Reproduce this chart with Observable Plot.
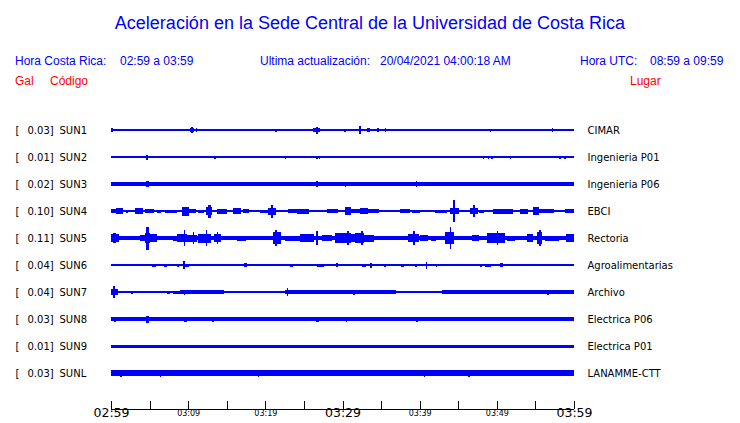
<!DOCTYPE html>
<html>
<head>
<meta charset="utf-8">
<script src="https://cdn.jsdelivr.net/npm/d3@7"></script>
<script src="https://cdn.jsdelivr.net/npm/@observablehq/plot@0.6"></script>
<style>
  html, body { margin: 0; padding: 0; background: #fff; }
  #page { position: relative; width: 740px; height: 423px; overflow: hidden; }
  #head { position: relative; height: 95px; }
  .t { position: absolute; white-space: pre; font-family: "Liberation Sans", Arial, sans-serif; line-height: 12px; font-size: 12px; }
  .blue { color: #0000ff; }
  .red { color: #ff0000; }
  #title { position: absolute; left: 0; width: 740px; top: 14px; text-align: center; font-family: "Liberation Sans", Arial, sans-serif; font-size: 18px; line-height: 18px; color: #0000ff; }
  #chart svg { display: block; }
</style>
</head>
<body>
<div id="page">
  <div id="head">
    <div id="title">Aceleración en la Sede Central de la Universidad de Costa Rica</div>
    <span class="t blue" style="left:15px;top:55px">Hora Costa Rica:</span>
    <span class="t blue" style="left:120px;top:55px">02:59 a 03:59</span>
    <span class="t blue" style="left:260px;top:55px">Ultima actualización:</span>
    <span class="t blue" style="left:380px;top:55px">20/04/2021 04:00:18 AM</span>
    <span class="t blue" style="left:580px;top:55px">Hora UTC:</span>
    <span class="t blue" style="left:650px;top:55px">08:59 a 09:59</span>
    <span class="t red" style="left:15px;top:75px">Gal</span>
    <span class="t red" style="left:50px;top:75px">Código</span>
    <span class="t red" style="left:630px;top:75px">Lugar</span>
  </div>
  <div id="chart"></div>
</div>
<script>
// ---- Data ----
const codes = ["SUN1","SUN2","SUN3","SUN4","SUN5","SUN6","SUN7","SUN8","SUN9","SUNL"];
const galScale = [0.03, 0.01, 0.02, 0.10, 0.11, 0.04, 0.04, 0.03, 0.01, 0.03];
const places = ["CIMAR","Ingenieria P01","Ingenieria P06","EBCI","Rectoria","Agroalimentarias","Archivo","Electrica P06","Electrica P01","LANAMME-CTT"];

// time axis: minutes after 02:59
const tickMinutes = [0,5,10,15,20,25,30,35,40,45,50,55,60];
const majorTicks = [{m:0, label:"02:59"},{m:30, label:"03:29"},{m:60, label:"03:59"}];
const minorTicks = [{m:10, label:"03:09"},{m:20, label:"03:19"},{m:40, label:"03:39"},{m:50, label:"03:49"}];

// Envelope segments per station: [startMinute, endMinute, halfAmplitude]
const sun1Env = [[0,60,0.6],[0,0.2,2],[1.9,2.0,1.2],[10.2,10.6,2],[10.4,10.5,3],[11.0,11.1,2],[21.3,21.4,1.5],[25.6,25.7,1],[26.2,27.0,1.8],[26.6,26.7,3.5],[30.2,30.3,1.5],[32.2,32.3,4],[33.2,33.4,2],[34.5,34.6,2],[35.5,35.6,2],[49.1,49.2,1.5],[53.3,53.4,1],[57.1,57.2,2]];
const sun2Env = [[0,60,0.6],[4.6,4.7,2.5],[9.6,9.7,1],[13.4,13.5,1.5],[21.2,21.3,1],[21.8,21.9,1],[22.5,22.6,1.5],[25.0,25.1,1],[25.7,25.8,1],[26.2,26.3,1],[26.6,26.7,1.5],[26.9,27.0,1.5],[30.3,30.4,1],[39.5,39.6,1],[39.8,39.9,1],[43.8,43.9,1],[44.7,44.8,1],[48.2,48.3,1.5],[48.8,48.9,1.5],[49.2,49.4,1.5],[51.0,51.1,1],[51.7,51.8,1.5],[58.0,58.2,1.5],[58.7,58.8,1.5]];
const sun3Env = [[0,60,2.0],[4.5,4.8,3],[26.6,26.7,3],[30.3,30.4,2.5],[39.5,39.6,3]];
const sun4Env = [[0,60,0.7],[0,0.65,2],[0.7,1.4,3],[2.0,2.1,1.5],[2.4,2.5,1],[3.1,4.0,3],[4.4,5.5,2],[6.0,6.4,1.5],[7.0,7.9,1.5],[8.0,8.5,1.5],[9.2,10.0,4.5],[10.0,10.9,2],[11.3,12.0,1.5],[12.3,13.0,4],[12.6,12.8,6.5],[13.7,14.9,2.5],[15.8,16.7,3],[17.1,17.8,2],[18.1,18.6,1],[19.3,20.2,1.5],[20.4,21.3,3.5],[20.7,20.9,6.5],[23.0,24.1,2],[24.1,25.5,2.5],[28.0,29.3,2],[30.3,31.0,4],[31.0,32.3,2],[32.3,33.2,3],[33.2,34.6,2],[37.5,38.7,2],[39.0,40.0,1.5],[41.4,41.5,1],[42.0,43.5,1.5],[43.9,45.0,3],[44.3,44.5,11],[46.5,47.5,3],[46.9,47.1,6],[47.7,48.3,1.5],[49.5,52.0,2.5],[53.0,54.0,2.5],[54.7,55.4,4],[55.4,57.3,2],[58.8,60,2]];
const sun5Env = [[0,60,1.7],[0,0.95,4],[0.3,0.5,5],[3.8,4.4,3],[4.4,5.05,5],[4.6,4.8,11.5],[5.05,5.9,4],[8.0,8.5,2.5],[8.5,9.8,4],[9.4,9.5,8],[9.8,11.1,3.5],[10.6,10.7,6],[11.3,12.8,4.5],[12.3,12.4,8],[13.3,14.1,4],[13.7,13.8,6],[16.3,17.4,2.5],[21.0,21.9,6],[21.3,21.4,8],[22.5,24.5,2.5],[24.5,26.2,4],[26.6,26.7,7],[27.3,28.6,3],[29.0,31.0,5],[30.6,30.7,7],[31.0,31.6,4],[31.6,32.7,5],[32.4,32.5,7],[32.7,34.0,3.5],[34.5,36.5,2],[38.5,39.8,4],[39.2,39.3,7],[40.0,41.0,3],[41.5,42.0,2.5],[43.3,44.4,6],[43.9,44.0,11],[46.8,47.6,3],[48.7,51.0,5],[50.0,50.1,7],[51.3,52.3,2.5],[53.9,54.6,4],[55.2,55.8,6],[55.5,55.6,8],[56.3,58.0,2.5],[59.0,60,4]];
const sun6Env = [[0,60,0.7],[5.3,5.7,1.5],[6.9,7.1,1.5],[8.5,8.7,1.5],[9.3,9.5,4],[9.5,10.0,1.5],[17.3,17.5,2],[23.2,23.5,1.5],[26.7,27.5,1.5],[28.2,28.3,1],[29.2,29.3,2],[32.5,32.9,1.5],[33.6,33.7,2.5],[35.4,35.6,1.5],[37.6,37.9,1.5],[39.4,39.5,1.5],[40.8,40.9,3.5],[42.1,42.2,1.5],[44.2,44.5,1],[47.8,48.0,1.5],[48.5,49.2,1.5],[50.4,50.7,2],[53.3,53.4,1]];
const sun7Env = [[0,9,0.7],[9,14.5,1.7],[14.5,22.5,1.3],[22.5,36.8,1.7],[36.8,39.5,1.3],[39.5,42.9,1.1],[42.9,60,1.7],[0,0.8,3],[0.3,0.4,6],[2.6,2.7,1.5],[5.1,5.2,1],[6.3,6.4,1],[7.2,7.6,1.5],[8.0,8.9,1.5],[9.4,9.5,2.5],[22.8,22.9,4],[31.4,31.5,2.5],[56.5,56.6,2.5]];
const sun8Env = [[0,60,1.9],[0.4,0.5,2.5],[4.5,4.8,3.5],[9.5,9.7,2.5],[13.1,13.3,2.5],[26.6,26.8,2.5],[30.4,30.5,2.5],[39.5,39.7,2.5]];
const sun9Env = [[0,60,1.5]];
const sunLEnv = [[0,60,2.8],[1.2,1.3,3.5],[6.3,6.4,3.5],[19.0,19.1,3.5],[40.5,40.6,3.5],[46.3,46.4,3.5]];

const envelopes = [sun1Env, sun2Env, sun3Env, sun4Env, sun5Env, sun6Env, sun7Env, sun8Env, sun9Env, sunLEnv];

// ---- Build the step envelopes (0.1-minute samples) from the read segments ----
const ROW = 27; // amplitude units per row spacing
const samples = [];
envelopes.forEach((segs, i) => {
  for (let k = 0; k <= 600; k++) {
    const t = k / 10;
    let a = 0;
    for (const [s, e, v] of segs) if (t >= s - 1e-9 && t <= e + 1e-9 && v > a) a = v;
    samples.push({station: i, t, amp: a});
  }
});
const stations = codes.map((c, i) => ({i, code: c, gal: galScale[i].toFixed(2) + "]", place: places[i]}));

const yTop = -35 / ROW;        // frame top (row units)
const yAxis = 279 / ROW;       // axis line (row units)

const chart = Plot.plot({
  width: 740,
  height: 328,
  marginLeft: 111,
  marginRight: 166,
  marginTop: 0,
  marginBottom: 14,
  x: {domain: [0, 60], axis: null},
  y: {domain: [yTop, yAxis], reverse: true, axis: null},
  style: {fontFamily: "'DejaVu Sans', sans-serif", background: "white"},
  marks: [
    Plot.areaY(samples, {
      x: "t",
      y1: d => d.station - d.amp / ROW,
      y2: d => d.station + d.amp / ROW,
      z: "station",
      curve: "step-after",
      fill: "#0000ff",
      shapeRendering: "crispEdges"
    }),
    // left labels
    Plot.text(stations, {y: "i", text: () => "[", frameAnchor: "left", dx: -96, textAnchor: "start", fontSize: 10, fill: "black"}),
    Plot.text(stations, {y: "i", text: "gal", frameAnchor: "left", dx: -84, textAnchor: "start", fontSize: 10, fill: "black"}),
    Plot.text(stations, {y: "i", text: "code", frameAnchor: "left", dx: -52, textAnchor: "start", fontSize: 10, fill: "black"}),
    // right labels
    Plot.text(stations, {y: "i", text: "place", frameAnchor: "right", dx: 13, textAnchor: "start", fontSize: 10, fill: "black"}),
    // time axis
    Plot.ruleY([yAxis], {stroke: "black", shapeRendering: "crispEdges"}),
    Plot.ruleX(tickMinutes, {x: d => d, insetTop: 306, stroke: "black", shapeRendering: "crispEdges"}),
    Plot.text(majorTicks, {x: "m", text: "label", frameAnchor: "bottom", dy: 7.5, fontSize: 12.5, fill: "black"}),
    Plot.text(minorTicks, {x: "m", text: "label", frameAnchor: "bottom", dy: 6, fontSize: 8, fill: "black"})
  ]
});
document.getElementById("chart").appendChild(chart);
</script>
</body>
</html>
